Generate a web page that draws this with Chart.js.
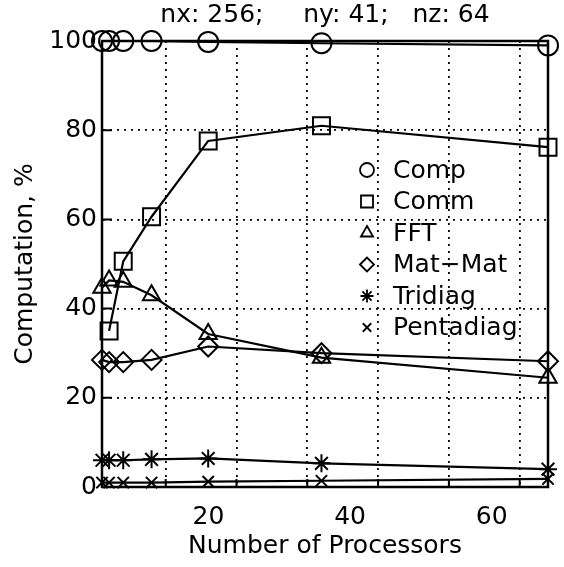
<!DOCTYPE html>
<html lang="en">
<head>
    <meta charset="utf-8">
    <script src="https://cdn.jsdelivr.net/npm/chart.js@4.4.0/dist/chart.umd.min.js"></script>
    <title>Computation %</title>
    <style>
    html, body { margin: 0; padding: 0; background: #fff; }
    #wrap { position: relative; width: 564px; height: 567px; }
    </style>
</head>
<body>
    <div id="wrap"><canvas id="myChart"></canvas></div>

    <script>
        // number of processors
        var procs = [1, 2, 4, 8, 16, 32, 64];

        // percentages
        var comp = [100, 100, 100, 100, 99.8, 99.5, 99];
        var comm = [null, 35, 50.6, 60.6, 77.6, 81, 76.2];
        var fft = [44.7, 46.3, 46, 43, 34.3, 29, 24.5];
        var matmat = [28.5, 28, 28, 28.5, 31.5, 30, 28.2];
        var tridiag = [6, 6, 6, 6.2, 6.4, 5.3, 4];
        var pentadiag = [1, 1, 1, 1, 1.2, 1.4, 1.8];

        var seriesNames = ["Comp", "Comm", "FFT", "Mat\u2212Mat", "Tridiag", "Pentadiag"];
        var seriesValues = [comp, comm, fft, matmat, tridiag, pentadiag];
        var markers = ["circle", "rect", "triangle", "rectRot", "star", "crossRot"];
        var markerSize = [10, 12, 10, 10, 9, 8];
        var legendMarkerSize = [7, 8.5, 7, 7, 6.5, 6];

        var xTicks = [10, 20, 30, 40, 50, 60];
        var xLabels = [20, 40, 60];

        var FONT = "'DejaVu Sans', sans-serif";

        var toPts = function(vals){
            var out = [];
            for (var i = 0; i < procs.length; i++) {
                if (vals[i] !== null) out.push({x: procs[i], y: vals[i]});
            }
            return out;
        };

        var datasets = seriesNames.map(function(name, i){
            return {
                label: name,
                data: toPts(seriesValues[i]),
                borderColor: "#000",
                borderWidth: 2.2,
                backgroundColor: "rgba(0,0,0,0)",
                pointStyle: markers[i],
                pointRadius: markerSize[i],
                pointBorderWidth: 2,
                pointBorderColor: "#000",
                pointBackgroundColor: "rgba(0,0,0,0)",
                tension: 0,
                clip: false
            };
        });

        // frame, inward ticks and the in-plot legend
        var framePlugin = {
            id: "frame",
            afterDraw: function(chart){
                var c = chart.ctx, a = chart.chartArea;
                var xs = chart.scales.x, ys = chart.scales.y;
                c.save();
                c.strokeStyle = "#000";
                c.lineWidth = 2.5;
                c.strokeRect(a.left, a.top, a.right - a.left, a.bottom - a.top);
                c.lineWidth = 2;
                c.beginPath();
                xTicks.forEach(function(v){
                    var px = xs.getPixelForValue(v);
                    c.moveTo(px, a.bottom);
                    c.lineTo(px, a.bottom - 8);
                });
                [20, 40, 60, 80].forEach(function(v){
                    var py = ys.getPixelForValue(v);
                    c.moveTo(a.left, py);
                    c.lineTo(a.left + 10, py);
                });
                c.stroke();

                var lx = 367, tx = 393, ly = 170, step = 31.5;
                c.font = "25px " + FONT;
                c.textBaseline = "middle";
                c.textAlign = "left";
                c.fillStyle = "#000";
                seriesNames.forEach(function(name, i){
                    var y = ly + i * step;
                    c.save();
                    c.fillStyle = "rgba(0,0,0,0)";
                    c.strokeStyle = "#000";
                    c.lineWidth = 1.8;
                    Chart.helpers.drawPoint(c, {pointStyle: markers[i], radius: legendMarkerSize[i], rotation: 0, borderWidth: 1.8}, lx, y);
                    c.restore();
                    c.fillText(name, tx, y + 1);
                });
                c.restore();
            }
        };

        var gridStyle = {
            color: "#000",
            lineWidth: 1.8,
            drawTicks: false
        };

        var ctx = document.getElementById("myChart").getContext("2d");
        var myChart = new Chart(ctx, {
            type: "line",
            data: { datasets: datasets },
            plugins: [framePlugin],
            options: {
                responsive: true,
                maintainAspectRatio: false,
                animation: false,
                layout: { padding: { left: 0, right: 16, top: 0, bottom: 0 } },
                plugins: {
                    legend: { display: false },
                    tooltip: { enabled: false },
                    title: {
                        display: true,
                        fullSize: false,
                        text: "nx: 256;     ny: 41;   nz: 64",
                        color: "#000",
                        font: { family: FONT, size: 25, weight: "normal" },
                        padding: { top: 0, bottom: 11 }
                    }
                },
                scales: {
                    x: {
                        type: "linear",
                        min: 1,
                        max: 64,
                        afterBuildTicks: function(axis){
                            axis.ticks = xTicks.map(function(v){ return {value: v}; });
                        },
                        afterFit: function(axis){ axis.height = 80; },
                        grid: gridStyle,
                        border: { display: true, color: "#000", width: 2, dash: [2, 5] },
                        ticks: {
                            color: "#000",
                            font: { family: FONT, size: 25 },
                            padding: 15,
                            labelOffset: -28,
                            maxRotation: 0,
                            autoSkip: false,
                            callback: function(v){ return xLabels.indexOf(v) > -1 ? String(v) : ""; }
                        },
                        title: {
                            display: true,
                            text: "Number of Processors",
                            color: "#000",
                            font: { family: FONT, size: 25 },
                            padding: { top: 0, bottom: 6 }
                        }
                    },
                    y: {
                        min: 0,
                        max: 100,
                        afterFit: function(axis){ axis.width = 102; },
                        grid: gridStyle,
                        border: { display: true, color: "#000", width: 2, dash: [2, 5] },
                        ticks: {
                            stepSize: 20,
                            color: "#000",
                            font: { family: FONT, size: 25 },
                            padding: 5
                        },
                        title: {
                            display: true,
                            text: "Computation, %",
                            color: "#000",
                            font: { family: FONT, size: 25 },
                            padding: { top: 10, bottom: 0 }
                        }
                    }
                }
            }
        });
    </script>
</body>
</html>
